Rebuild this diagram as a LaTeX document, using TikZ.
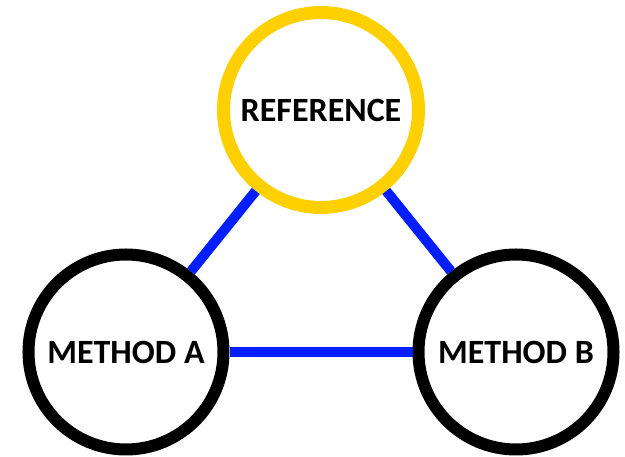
\documentclass[tikz,border=0pt]{standalone}
\usepackage{fontspec}
\setmainfont{Carlito}
\definecolor{refyellow}{RGB}{255,208,0}
\definecolor{linkblue}{RGB}{0,30,255}
\begin{document}
\begin{tikzpicture}[x=1pt,y=1pt,
  circ/.style={circle, fill=white, minimum size=195pt, inner sep=0pt, font=\bfseries\fontsize{34}{40}\selectfont},
  link/.style={draw=linkblue, line width=10pt}]
\useasboundingbox (0,0) rectangle (625,457);
\node[circ, draw=refyellow, line width=13pt] (ref) at (321,347) {REFERENCE};
\node[circ, draw=black, line width=12pt] (a) at (126,105) {METHOD A};
\node[circ, draw=black, line width=12pt] (b) at (516,105) {METHOD B};
\draw[link] (ref) -- (a);
\draw[link] (ref) -- (b);
\draw[link] (a) -- (b);
\end{tikzpicture}
\end{document}
